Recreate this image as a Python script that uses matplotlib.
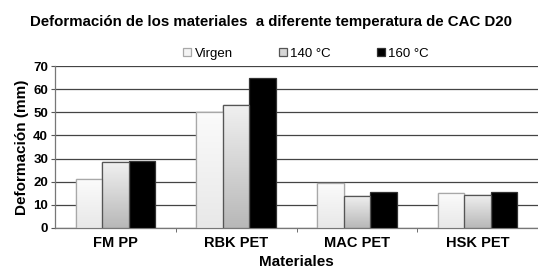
import matplotlib
matplotlib.use("Agg")
import matplotlib.pyplot as plt
import numpy as np
from matplotlib.colors import LinearSegmentedColormap

plt.rcParams['font.family'] = ['Liberation Sans', 'DejaVu Sans']

categories = ["FM PP", "RBK PET", "MAC PET", "HSK PET"]
series_names = ["Virgen", "140 °C", "160 °C"]
virgen = [21.0, 50.3, 19.3, 15.1]
t140 = [28.5, 53.0, 14.0, 14.3]
t160 = [29.0, 64.7, 15.6, 15.6]
yticks = [0, 10, 20, 30, 40, 50, 60, 70]

fig = plt.figure(figsize=(5.38, 2.78), dpi=100)
ax = fig.add_axes([55/538, 50/278, 483/538, 162/278])

x = np.arange(len(categories))
w = 0.22
fills = ['#f4f4f4', '#d6d6d6', '#000000']
edges = ['#a8a8a8', '#555555', '#333333']
grads = [('#e8e8e8', '#fbfbfb'), ('#b8b8b8', '#f0f0f0'), None]
for i, (vals, name) in enumerate(zip([virgen, t140, t160], series_names)):
    bars = ax.bar(x + (i - 1) * w, vals, w, color=fills[i], edgecolor=edges[i],
                  linewidth=0.9, label=name, zorder=3)
    if grads[i] is not None:
        cmap = LinearSegmentedColormap.from_list('g%d' % i, list(grads[i]))
        for b in bars:
            x0, y0 = b.get_x(), b.get_y()
            bw, bh = b.get_width(), b.get_height()
            grad = np.linspace(0, 1, 64).reshape(-1, 1)
            im = ax.imshow(grad, extent=[x0, x0 + bw, y0, y0 + bh], origin='lower',
                           cmap=cmap, aspect='auto', zorder=3.1, interpolation='bicubic')
            im.set_clip_path(b)
            ax.bar(x0 + bw / 2, bh, bw, color='none', edgecolor=edges[i],
                   linewidth=0.9, zorder=3.2)

ax.set_ylim(0, 70)
ax.set_xlim(-0.5, 3.5)
ax.set_yticks(yticks)
ax.set_yticklabels([str(v) for v in yticks], fontsize=9.5, fontweight='bold')
ax.set_xticks(x)
ax.set_xticklabels(categories, fontsize=10.5, fontweight='bold')
ax.tick_params(axis='x', length=0, pad=6)
ax.set_xticks([0.5, 1.5, 2.5], minor=True)
ax.tick_params(axis='x', which='minor', length=3, color='#555555')
ax.tick_params(axis='y', length=3, color='#555555', pad=2)
ax.yaxis.grid(True, color='#444444', linewidth=0.9, zorder=0)
ax.set_axisbelow(True)
for s in ['top', 'right']:
    ax.spines[s].set_visible(False)
for s in ['left', 'bottom']:
    ax.spines[s].set_color('#777777')
    ax.spines[s].set_linewidth(0.9)

ax.set_ylabel("Deformación (mm)", fontsize=11, fontweight='bold', labelpad=3)
ax.set_xlabel("Materiales", fontsize=11, fontweight='bold', labelpad=3)

fig.text(0.504, 0.922, "Deformación de los materiales  a diferente temperatura de CAC D20",
         ha='center', va='center', fontsize=10.8, fontweight='bold')

leg = ax.legend(loc='lower center', bbox_to_anchor=(0.52, 1.005), ncol=3, frameon=False,
                fontsize=9.5, handlelength=0.6, handleheight=0.6, handletextpad=0.25,
                columnspacing=3.5, borderaxespad=0)

fig.savefig("out.png", dpi=100)
